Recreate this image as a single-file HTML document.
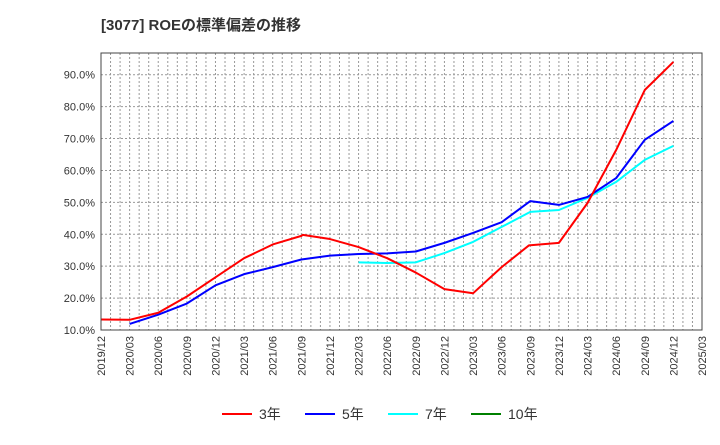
<!DOCTYPE html>
<html><head><meta charset="utf-8"><style>
body{margin:0;background:#fff;width:720px;height:440px;overflow:hidden;font-family:"Liberation Sans","Noto Sans CJK JP",sans-serif;}
</style></head><body>
<svg width="720" height="440" style="font-family:'Liberation Sans','Noto Sans CJK JP',sans-serif">
<text x="101" y="30" font-size="15" font-weight="bold" fill="#333">[3077]  ROEの標準偏差の推移</text>
<g id="grid"></g><g id="axes"></g><g id="series"></g>
<rect x="101" y="53" width="601" height="277" fill="none" stroke="#444" stroke-width="1"/>
<g id="legend"></g>
</svg>
<script>
const xTicks=["2019/12","2020/03","2020/06","2020/09","2020/12","2021/03","2021/06","2021/09","2021/12","2022/03","2022/06","2022/09","2022/12","2023/03","2023/06","2023/09","2023/12","2024/03","2024/06","2024/09","2024/12","2025/03"];
const yTicks=[10,20,30,40,50,60,70,80,90];
const s3=[13.3,13.2,15.4,20.5,26.5,32.5,36.8,39.5,39.8,38.5,36,32.5,28,22.8,21.5,29.7,36.5,37.3,49.8,66.4,85.2,94];
const q3=[0,1,2,3,4,5,6,7,7.05,8,9,10,11,12,13,14,14.95,16,17,18,19,20];
const s5=[11.9,14.8,18.3,24,27.5,29.7,32.1,33.3,33.8,34.0,34.6,37.3,40.4,43.8,50.4,49.2,51.7,57.6,69.6,75.5];
const q5=[1,2,3,4,5,6,7,8,9,10,11,12,13,14,15,16,17,18,19,20];
const s7=[31.2,31.0,31.2,34.1,37.6,42.3,47,47.6,51.4,56.4,63.3,67.7];
const q7=[9,10,11,12,13,14,15,16,17,18,19,20];
const NS="http://www.w3.org/2000/svg";
const L=101,R=702,T=53,B=330,ymin=10,ymax=96.8;
const X=q=>L+q*(R-L)/21;
const Y=v=>B-(v-ymin)/(ymax-ymin)*(B-T);
function mk(t,a,p){const e=document.createElementNS(NS,t);for(const k in a)e.setAttribute(k,a[k]);p.appendChild(e);return e;}
const grid=document.getElementById('grid'),axes=document.getElementById('axes'),ser=document.getElementById('series'),leg=document.getElementById('legend');
mk('rect',{x:L,y:T,width:R-L,height:B-T,fill:'#fff'},grid);
for(let m=1;m<63;m++){const x=L+m*(R-L)/63;const g=mk('line',{x1:x,x2:x,y1:T,y2:B,stroke:'#999','stroke-dasharray':'2,2','stroke-width':1},grid);

}
yTicks.forEach(v=>{const y=Y(v);const g=mk('line',{x1:L,x2:R,y1:y,y2:y,stroke:'#999','stroke-dasharray':'2,2'},grid);


const t=mk('text',{x:95,y:y+4,'text-anchor':'end','font-size':11,fill:'#333'},axes);t.textContent=v.toFixed(1)+'%';

});
xTicks.forEach((s,i)=>{const x=X(i);const t=mk('text',{x:0,y:0,'text-anchor':'end','font-size':11,fill:'#333',transform:`translate(${x+4},336) rotate(-90)`},axes);t.textContent=s;

});
function line(qs,vs,c,n){const p=mk('polyline',{points:qs.map((q,i)=>X(q)+','+Y(vs[i])).join(' '),fill:'none',stroke:c,'stroke-width':2,'stroke-linejoin':'round'},ser);

}
line(q7,s7,'#00ffff','series-7y');
line(q5,s5,'#0000ff','series-5y');
line(q3,s3,'#ff0000','series-3y');
[['3年','#ff0000',222],['5年','#0000ff',305],['7年','#00ffff',388],['10年','#008000',471]].forEach(([n,c,x])=>{
const g=mk('g',{},leg);


mk('line',{x1:x,x2:x+30,y1:414,y2:414,stroke:c,'stroke-width':2},g);
const t=mk('text',{x:x+37,y:419,'font-size':14,fill:'#333'},g);t.textContent=n;});
</script>
</body></html>
